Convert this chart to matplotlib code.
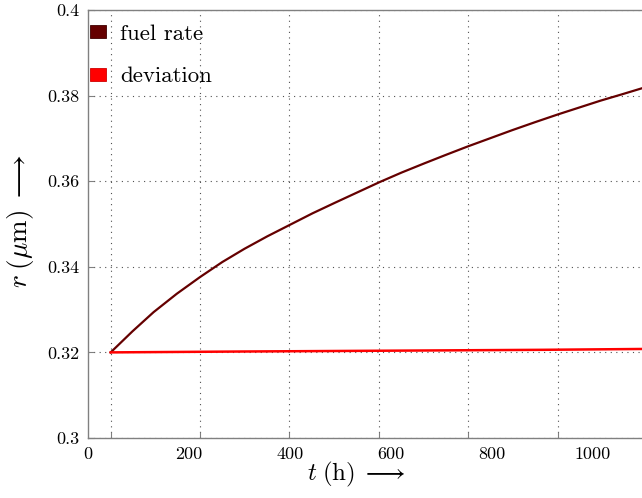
import matplotlib
matplotlib.use("Agg")
import matplotlib.pyplot as plt
from matplotlib.patches import Patch
from matplotlib.ticker import FixedLocator, FixedFormatter

plt.rcParams['font.family'] = 'serif'
plt.rcParams['font.serif'] = ['cmr10']
plt.rcParams['mathtext.fontset'] = 'cm'
plt.rcParams['axes.formatter.use_mathtext'] = True

# values
t_fuel = [45, 88, 130, 176, 222, 266, 310, 355, 400, 445, 490, 534, 578, 621,
          665, 708, 752, 796, 840, 886, 931, 973, 1015, 1058, 1100]
r_fuel = [0.3200, 0.3249, 0.3294, 0.3337, 0.3376, 0.3411, 0.3442, 0.3471, 0.3498,
          0.3525, 0.3550, 0.3574, 0.3598, 0.3620, 0.3641, 0.3661, 0.3681, 0.3700,
          0.3719, 0.3738, 0.3756, 0.3772, 0.3788, 0.3803, 0.3818]

t_dev = [45, 300, 600, 900, 1100]
r_dev = [0.3200, 0.3202, 0.3204, 0.3206, 0.3208]

x_labels = [0, 200, 400, 600, 800, 1000]
x_grid = [45.5, 222, 398, 576, 752, 931]
y_ticks = [0.30, 0.32, 0.34, 0.36, 0.38, 0.40]
y_labels = ['0.3', '0.32', '0.34', '0.36', '0.38', '0.4']

c_fuel = '#650000'
c_dev = '#ff0000'
gray = '#808080'

fig = plt.figure(figsize=(6.42, 4.98), dpi=100)
ax = fig.add_axes([0.137, 0.1205, 0.865, 0.8595])

ax.plot(t_fuel, r_fuel, color=c_fuel, lw=1.6, zorder=3)
ax.plot(t_dev, r_dev, color=c_dev, lw=1.8, zorder=3)

ax.set_xlim(0, 1100)
ax.set_ylim(0.3, 0.4)

# grid/ticks sit apart from the labels, as in the reference
ax.xaxis.set_major_locator(FixedLocator(x_grid))
ax.xaxis.set_major_formatter(FixedFormatter([''] * len(x_grid)))
ax.xaxis.set_minor_locator(FixedLocator(x_labels))
ax.xaxis.set_minor_formatter(FixedFormatter([str(v) for v in x_labels]))
ax.tick_params(axis='x', which='major', direction='in', length=4, color=gray, width=0.8)
ax.tick_params(axis='x', which='minor', length=0, pad=6, labelsize=13)

ax.yaxis.set_major_locator(FixedLocator(y_ticks))
ax.yaxis.set_major_formatter(FixedFormatter(y_labels))
ax.tick_params(axis='y', which='major', direction='in', length=4, color=gray,
               width=0.8, pad=6, labelsize=13)

ax.grid(True, which='major', linestyle=(0, (1, 4)), color='#505050', lw=0.8)

for s in ax.spines.values():
    s.set_color(gray)
    s.set_linewidth(1.0)

ax.set_xlabel(r'$t\;(\mathrm{h})\;\longrightarrow$', fontsize=18)
ax.xaxis.set_label_coords(0.483, -0.052)
ax.set_ylabel(r'$r\;(\mu\mathrm{m})\;\longrightarrow$', fontsize=19.5)
ax.yaxis.set_label_coords(-0.094, 0.506)

handles = [Patch(facecolor=c_fuel, edgecolor='#400000', lw=0.6, label='fuel rate'),
           Patch(facecolor=c_dev, edgecolor='#d00000', lw=0.6, label='deviation')]
ax.legend(handles=handles, loc='upper left', bbox_to_anchor=(0.004, 0.966),
          frameon=False, fontsize=16.5,
          handlelength=0.7, handleheight=0.5, handletextpad=0.6,
          labelspacing=1.0, borderaxespad=0, borderpad=0)

fig.savefig('out.png', dpi=100)
